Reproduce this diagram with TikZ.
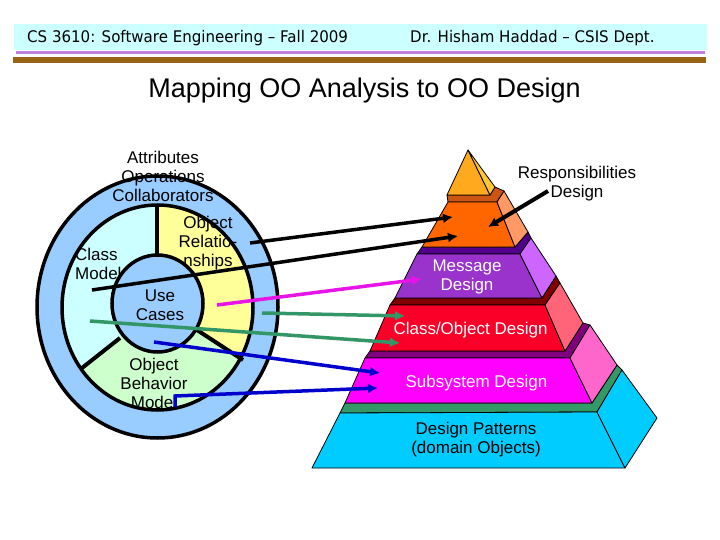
\documentclass[tikz,border=0pt]{standalone}
\usepackage{fontspec}
\setmainfont{Liberation Sans}
\newfontfamily\hdrfont[FakeStretch=0.94]{DejaVu Sans}
\usetikzlibrary{arrows.meta}
\definecolor{hdrband}{RGB}{204,255,255}
\definecolor{hdrpurple}{RGB}{192,128,224}
\definecolor{hdrbrown}{RGB}{150,100,20}
\definecolor{ringblue}{RGB}{153,204,255}
\definecolor{cmodel}{RGB}{204,255,255}
\definecolor{orel}{RGB}{255,255,153}
\definecolor{obeh}{RGB}{204,255,204}
\definecolor{cyanF}{RGB}{0,204,255}
\definecolor{cyanS}{RGB}{0,204,255}
\definecolor{greenT}{RGB}{51,153,102}
\definecolor{magF}{RGB}{255,0,255}
\definecolor{magS}{RGB}{255,102,204}
\definecolor{magT}{RGB}{128,0,128}
\definecolor{redF}{RGB}{250,0,40}
\definecolor{redS}{RGB}{255,100,120}
\definecolor{redT}{RGB}{128,0,0}
\definecolor{purF}{RGB}{153,51,204}
\definecolor{purS}{RGB}{204,102,255}
\definecolor{purT}{RGB}{80,0,140}
\definecolor{orF}{RGB}{255,102,0}
\definecolor{orS}{RGB}{255,153,102}
\definecolor{orT}{RGB}{204,85,20}
\definecolor{triF}{RGB}{255,170,30}
\definecolor{triS}{RGB}{255,200,50}
\definecolor{arrMag}{RGB}{230,20,230}
\definecolor{arrGreen}{RGB}{51,150,102}
\definecolor{arrBlue}{RGB}{0,0,204}
\begin{document}
\begin{tikzpicture}[x=1pt,y=-1pt,
  clbl/.style={inner sep=0pt, align=center, font=\fontsize{17}{19}\selectfont},
  plbl/.style={inner sep=0pt, align=center, font=\fontsize{17}{19}\selectfont},
  face/.style={draw=black, line width=0.8pt, line join=round},
  ringline/.style={draw=black, line width=3.5pt},
  conn/.style={line width=3.5pt, -{Latex[length=10pt,width=10pt]}},
]
\useasboundingbox (0,0) rectangle (720,540);
\fill[white] (0,0) rectangle (720,540);
% header
\fill[hdrband] (14,24) rectangle (707,50);
\fill[hdrpurple] (16,51) rectangle (705,54);
\fill[hdrbrown] (13,57) rectangle (706,63);
\node[anchor=west, inner sep=0pt] (h1) at (27,38) {\hdrfont\fontsize{16}{19}\selectfont CS 3610: Software Engineering – Fall 2009};
\node[anchor=west, inner sep=0pt] (h2) at (410,38) {\hdrfont\fontsize{16}{19}\selectfont Dr. Hisham Haddad – CSIS Dept.};
% title
\node[inner sep=0pt, font=\fontsize{27}{30}\selectfont] (title) at (364.5,91) {Mapping OO Analysis to OO Design};
% circle diagram
\filldraw[fill=ringblue, ringline] (157.5,307) ellipse [x radius=120.5pt, y radius=131pt];
\begin{scope}
  \clip (157.5,307.5) ellipse [x radius=95.5pt, y radius=102.5pt];
  \fill[cmodel] (157,150) -- (157,309) -- (20,417) -- (20,150) -- cycle;
  \fill[orel] (157,150) -- (157,304) -- (300,397) -- (300,150) -- cycle;
  \fill[obeh] (157,304) -- (157,309) -- (20,417) -- (20,460) -- (300,460) -- (300,397) -- cycle;
\end{scope}
\draw[ringline] (157.5,307.5) ellipse [x radius=95.5pt, y radius=102.5pt];
\draw[line width=4pt] (157,205) -- (157,256);
\draw[line width=4pt] (120,338) -- (82,368);
\draw[line width=4pt] (197,330) -- (243,360);
\filldraw[fill=ringblue, ringline] (157.5,303.5) ellipse [x radius=45.5pt, y radius=48.5pt];
\node[clbl] (attr) at (163,176) {Attributes\\Operations\\Collaborators};
\node[clbl] (orl) at (208,243) {Object\\Relatio-\\nships};
\node[clbl, anchor=west, align=left] (cm) at (75,264) {Class\\Model};
\node[clbl] (uc) at (160,305.5) {Use\\Cases};
\node[clbl] (obm) at (154,383.5) {Object\\Behavior\\Model};
% pyramid: cyan block
\filldraw[face, fill=greenT] (340,413) -- (597,412) -- (622,370) -- (617,365) -- (592,403) -- (345,403) -- cycle;
\filldraw[face, fill=cyanF] (340,413) -- (597,412) -- (625,468) -- (312,468) -- cycle;
\filldraw[face, fill=cyanS] (597,412) -- (622,370) -- (657,418) -- (625,468) -- cycle;
% magenta block
\filldraw[face, fill=magT] (365,358) -- (570,358) -- (590,325) -- (583,323) -- (565,351) -- (370,351) -- cycle;
\filldraw[face, fill=magF] (365,358) -- (570,358) -- (592,403) -- (345,403) -- cycle;
\filldraw[face, fill=magS] (570,358) -- (590,325) -- (617,365) -- (592,403) -- cycle;
% red block
\filldraw[face, fill=redT] (390,305) -- (545,305) -- (560,283) -- (556,276) -- (542,298) -- (395,298) -- cycle;
\filldraw[face, fill=redF] (390,305) -- (545,305) -- (565,351) -- (370,351) -- cycle;
\filldraw[face, fill=redS] (545,305) -- (560,283) -- (583,323) -- (565,351) -- cycle;
% purple block
\filldraw[face, fill=purT] (417,254) -- (520,254) -- (531,238) -- (528,232) -- (515,247) -- (422,247) -- cycle;
\filldraw[face, fill=purF] (417,254) -- (520,254) -- (542,298) -- (395,298) -- cycle;
\filldraw[face, fill=purS] (520,254) -- (531,238) -- (556,276) -- (542,298) -- cycle;
% orange block
\filldraw[face, fill=orT] (448,202) -- (497,202) -- (504,191) -- (495,187) -- (490,195) -- (447,195) -- cycle;
\filldraw[face, fill=orF] (448,202) -- (497,202) -- (515,247) -- (422,247) -- cycle;
\filldraw[face, fill=orS] (497,202) -- (504,191) -- (528,232) -- (515,247) -- cycle;
% top triangle
\filldraw[face, fill=triF] (468,150) -- (490,195) -- (447,195) -- cycle;
\filldraw[face, fill=triS] (468,150) -- (495,187) -- (490,195) -- cycle;
% pyramid labels
\node[clbl] (resp) at (577,184) {Responsibilities\\Design};
\node[plbl, text=white] (msg) at (467,276.5) {Message\\Design};
\node[plbl, text=white] (cod) at (470.5,330) {Class/Object Design};
\node[plbl, text=white] (sub) at (476.5,383) {Subsystem Design};
\node[plbl] (dp) at (476,439.5) {Design Patterns\\(domain Objects)};
% connector end points
\coordinate (k1s) at (250,243); \coordinate (k1e) at (453,217);
\coordinate (k2s) at (92,290);  \coordinate (k2e) at (458,236);
\coordinate (rs) at (548,191);  \coordinate (re) at (488,227);
\coordinate (ms) at (217,305);  \coordinate (me) at (422,279);
\coordinate (g1s) at (262,313); \coordinate (g1e) at (405,316);
\coordinate (g2s) at (90,321);  \coordinate (g2e) at (400,343);
\coordinate (b1s) at (154,342); \coordinate (b1e) at (380,373);
\coordinate (b2s) at (175,407); \coordinate (b2m) at (175,396); \coordinate (b2e) at (378,388);
% connectors
\draw[conn, black] (k1s) -- (k1e);
\draw[conn, black] (k2s) -- (k2e);
\draw[conn, black, line width=4pt] (rs) -- (re);
\draw[conn, arrMag] (ms) -- (me);
\draw[conn, arrGreen] (g1s) -- (g1e);
\draw[conn, arrGreen] (g2s) -- (g2e);
\draw[conn, arrBlue] (b1s) -- (b1e);
\draw[conn, arrBlue] (b2s) -- (b2m) -- (b2e);
\end{tikzpicture}
\end{document}
